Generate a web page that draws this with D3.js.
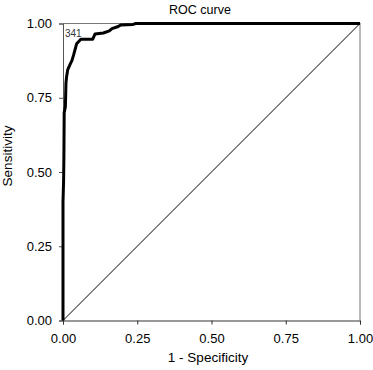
<!DOCTYPE html>
<html>
<head>
<meta charset="utf-8">
<script src="https://cdn.jsdelivr.net/npm/d3@7"></script>
<style>
  body { margin: 0; background: #fff; }
  text { font-family: "Liberation Sans", Arial, sans-serif; }
</style>
</head>
<body>
<div id="wrapper"></div>
<script>
/// Data ///
const fpr = [0, 0, 0.002, 0.003, 0.004, 0.008, 0.01, 0.012, 0.016, 0.025, 0.03, 0.036, 0.046, 0.06, 0.10, 0.108, 0.136, 0.156, 0.165, 0.186, 0.194, 0.236, 0.245, 1];
const tpr = [0, 0.40, 0.47, 0.55, 0.70, 0.72, 0.80, 0.82, 0.845, 0.865, 0.875, 0.895, 0.932, 0.947, 0.947, 0.965, 0.968, 0.975, 0.983, 0.99, 0.995, 0.997, 1, 1];
const tickValues = [0, 0.25, 0.5, 0.75, 1];
const cutLabel = "341";
const cutPoint = [0.0, 0.95];

/// Dimensions ///
const width = 373;
const height = 370;
const margin = { top: 23.5, right: 13, bottom: 49.5, left: 63 };

const svg = d3.select("#wrapper").append("svg")
  .attr("width", width)
  .attr("height", height);

/// Scales ///
const x = d3.scaleLinear().domain([0, 1]).range([margin.left, width - margin.right]);
const y = d3.scaleLinear().domain([0, 1]).range([height - margin.bottom, margin.top]);

// frame (top and right)
svg.append("path")
  .attr("d", `M${x(0)},${y(1)}H${x(1)}V${y(0)}`)
  .attr("fill", "none")
  .attr("stroke", "#777")
  .attr("stroke-width", 1);

/// Axes ///
const fmt = d3.format(".2f");
svg.append("g")
  .attr("transform", `translate(0, ${y(0)})`)
  .call(d3.axisBottom(x).tickValues(tickValues).tickFormat(fmt).tickSizeOuter(0).tickSize(4).tickPadding(9))
  .call(g => g.selectAll("text").attr("font-size", 13).attr("font-family", "Liberation Sans, Arial, sans-serif").attr("fill", "#000"))
  .call(g => g.selectAll("line, path").attr("stroke", "#333"));

svg.append("g")
  .attr("transform", `translate(${x(0)}, 0)`)
  .call(d3.axisLeft(y).tickValues(tickValues).tickFormat(fmt).tickSizeOuter(0).tickSize(4).tickPadding(7))
  .call(g => g.selectAll("text").attr("font-size", 13).attr("font-family", "Liberation Sans, Arial, sans-serif").attr("fill", "#000"))
  .call(g => g.selectAll("line, path").attr("stroke", "#555"));

// diagonal reference line
svg.append("line")
  .attr("x1", x(0)).attr("y1", y(0))
  .attr("x2", x(1)).attr("y2", y(1))
  .attr("stroke", "#000")
  .attr("stroke-width", 1);

// ROC curve
const line = d3.line()
  .x(d => x(d[0]))
  .y(d => y(d[1]));

svg.append("path")
  .datum(d3.zip(fpr, tpr))
  .attr("d", line)
  .attr("fill", "none")
  .attr("stroke", "#000")
  .attr("stroke-width", 3)
  .attr("stroke-linejoin", "round");

// cut-off label
svg.append("text")
  .attr("x", x(cutPoint[0]) + 2)
  .attr("y", y(cutPoint[1]) - 1)
  .attr("font-size", 10)
  .attr("fill", "#333")
  .text(cutLabel);

/// Titles ///
svg.append("text")
  .attr("x", 200)
  .attr("y", 14)
  .attr("text-anchor", "middle")
  .attr("font-size", 12.5)
  .text("ROC curve");

svg.append("text")
  .attr("x", 208)
  .attr("y", 362)
  .attr("text-anchor", "middle")
  .attr("font-size", 13.5)
  .text("1 - Specificity");

svg.append("text")
  .attr("transform", `translate(12, 156) rotate(-90)`)
  .attr("text-anchor", "middle")
  .attr("font-size", 13.5)
  .text("Sensitivity");
</script>
</body>
</html>
